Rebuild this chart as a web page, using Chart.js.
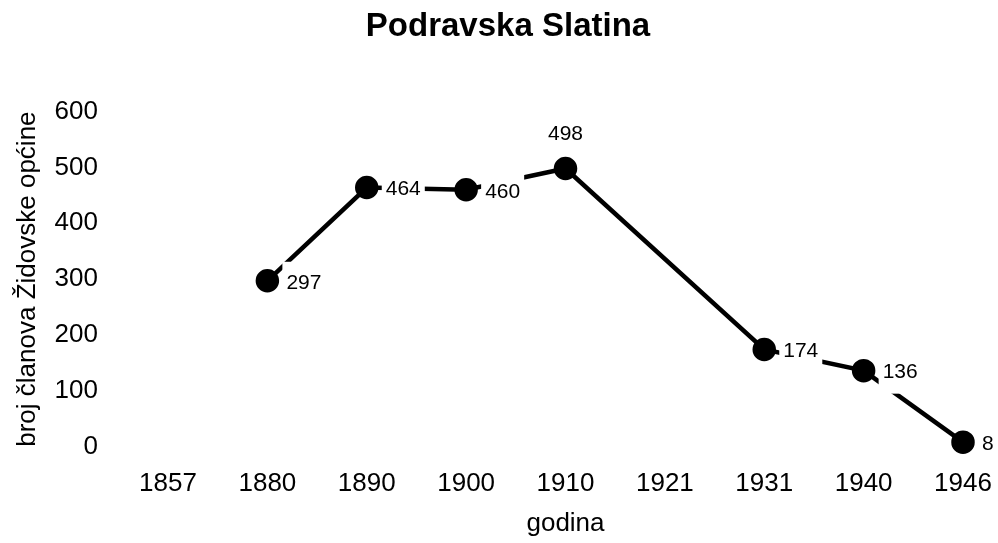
<!DOCTYPE html>
<html>
<head>
<meta charset="utf-8">
<script src="https://cdn.jsdelivr.net/npm/chart.js@4"></script>
<style>
  html, body { margin: 0; padding: 0; background: #fff; }
  #wrap { width: 998px; height: 543px; }
</style>
</head>
<body>
<div id="wrap"><canvas id="chart"></canvas></div>
<script>
const years = ['1857', '1880', '1890', '1900', '1910', '1921', '1931', '1940', '1946'];
const members = [null, 297, 464, 460, 498, null, 174, 136, 8];
const yTicks = [0, 100, 200, 300, 400, 500, 600];

const FONT = '"Liberation Sans", Arial, sans-serif';

// value labels with white box, above the peak, right of the rest
const valueLabels = {
  id: 'valueLabels',
  afterDatasetsDraw(chart) {
    const ctx = chart.ctx;
    const meta = chart.getDatasetMeta(0);
    const data = chart.data.datasets[0].data;
    const peak = Math.max(...data.filter(v => v !== null));
    ctx.save();
    ctx.font = '21px ' + FONT;
    ctx.textBaseline = 'middle';
    ctx.textAlign = 'left';
    meta.data.forEach((pt, i) => {
      const v = data[i];
      if (v === null) return;
      const txt = String(v);
      const w = ctx.measureText(txt).width;
      let x, y;
      if (v === peak) {
        x = pt.x - w / 2;
        y = pt.y - 34;
      } else {
        x = pt.x + 19;
        y = pt.y + 2;
      }
      ctx.fillStyle = '#fff';
      ctx.fillRect(x - 4, y - 21, w + 8, 42);
      ctx.fillStyle = '#000';
      ctx.fillText(txt, x, y);
    });
    ctx.restore();
  }
};

new Chart(document.getElementById('chart'), {
  type: 'line',
  data: {
    labels: years,
    datasets: [{
      data: members,
      borderColor: '#000',
      backgroundColor: '#000',
      borderWidth: 4.5,
      pointRadius: 9.5,
      pointHoverRadius: 9.5,
      pointBackgroundColor: '#000',
      spanGaps: true,
      tension: 0,
      clip: false
    }]
  },
  options: {
    responsive: true,
    maintainAspectRatio: false,
    animation: false,
    layout: { padding: { left: 53, right: 35, top: 0, bottom: 0 } },
    plugins: {
      legend: { display: false },
      tooltip: { enabled: false },
      title: {
        display: true,
        text: 'Podravska Slatina',
        color: '#000',
        font: { family: FONT, size: 33, weight: 'bold' },
        padding: { top: 7, bottom: 65 }
      }
    },
    scales: {
      x: {
        offset: false,
        afterFit(scale) {
          scale.paddingRight = 0;
        },
        grid: { display: false },
        border: { display: false },
        ticks: {
          color: '#000',
          padding: 14,
          maxRotation: 0,
          font: { family: FONT, size: 26 }
        },
        title: {
          display: true,
          text: 'godina',
          color: '#000',
          padding: { top: -6, bottom: 4 },
          font: { family: FONT, size: 26 }
        }
      },
      y: {
        min: 0,
        max: 600,
        afterBuildTicks(scale) {
          scale.ticks = yTicks.map(v => ({ value: v }));
        },
        afterFit(scale) {
          scale.width = 115;
        },
        grid: { display: false },
        border: { display: false },
        ticks: {
          color: '#000',
          padding: 62,
          font: { family: FONT, size: 26 }
        },
        title: {
          display: true,
          text: 'broj članova Židovske općine',
          color: '#000',
          padding: { top: -41, bottom: 0 },
          font: { family: FONT, size: 26 }
        }
      }
    }
  },
  plugins: [valueLabels]
});
</script>
</body>
</html>
